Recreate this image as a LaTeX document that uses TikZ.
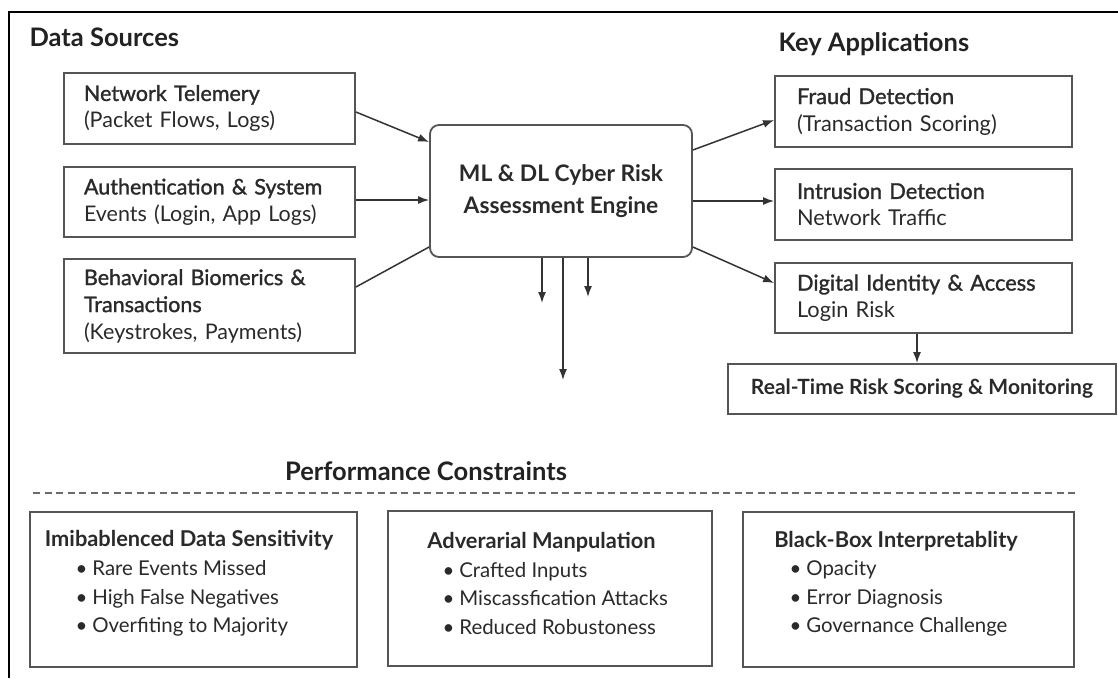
\documentclass[tikz,border=0pt]{standalone}
\usepackage{fontspec}
\setmainfont{Lato}
\newfontfamily\medfont[FakeBold=1.3]{Lato}
\usetikzlibrary{arrows.meta,calc}
\definecolor{txt}{HTML}{2A2A2A}
\definecolor{headtxt}{HTML}{222222}
\definecolor{boxgray}{HTML}{555555}
\definecolor{linegray}{HTML}{333333}
\definecolor{dashgray}{HTML}{6A6A6A}

\begin{document}
\begin{tikzpicture}[x=1pt,y=-1pt,
  every node/.style={text=txt, inner ysep=0pt},
  heading/.style={text=headtxt, font=\bfseries\fontsize{25.5}{30}\selectfont, anchor=base west},
  srcbox/.style={draw=boxgray, line width=1.8pt, fill=white, inner xsep=20pt,
    text width=251pt, align=left, font=\fontsize{21.5}{27}\selectfont},
  appbox/.style={draw=boxgray, line width=1.8pt, fill=white, inner xsep=22pt,
    text width=253pt, align=left, minimum height=71pt, font=\fontsize{21.8}{27}\selectfont},
  engine/.style={draw=boxgray, line width=1.8pt, fill=white, rounded corners=9pt,
    minimum width=262pt, minimum height=132pt, align=center,
    font=\bfseries\fontsize{22.8}{32}\selectfont},
  conbox/.style={draw=boxgray, line width=2pt, fill=white, minimum height=155pt},
  contitle/.style={font=\bfseries\fontsize{21.8}{24}\selectfont},
  bullets/.style={align=left, anchor=west, font=\fontsize{20.4}{28.5}\selectfont},
  flow/.style={draw=linegray, line width=1.5pt, -{Latex[length=11pt,width=8pt]}},
  link/.style={draw=linegray, line width=1.5pt}
]
\fill[white] (0,0) rectangle (1118,678);
\useasboundingbox (0,0) rectangle (1118,678);

% outer frame (top and left edges)
\draw[line width=2pt, black] (9,678) -- (9,12) -- (1118,12);

% section headings
\node[heading] (hsrc) at (26,46) {Data Sources};
\node[heading] (happ) at (775,51) {Key Applications};

% data sources
\node[srcbox, minimum height=71pt] (net) at (209.5,108.5)
  {{\medfont Network Telemery}\\(Packet Flows, Logs)};
\node[srcbox, minimum height=70pt] (auth) at (209.5,202)
  {{\medfont Authentication \& System}\\Events (Login, App Logs)};
\node[srcbox, minimum height=94pt] (bio) at (209.5,306)
  {{\medfont Behavioral Biomerics \&}\\{\medfont Transactions}\\(Keystrokes, Payments)};

% central engine
\node[engine] (eng) at (561,191) {ML \& DL Cyber Risk\\Assessment Engine};

% applications
\node[appbox] (fraud) at (923.5,111.5) {{\medfont Fraud Detection}\\(Transaction Scoring)};
\node[appbox] (intr) at (923.5,204.5) {{\medfont Intrusion Detection}\\Network Traffic};
\node[appbox, minimum height=70pt] (ident) at (923.5,298) {{\medfont Digital Identity \& Access}\\Login Risk};
\node[draw=boxgray, line width=1.8pt, fill=white, minimum width=388pt, minimum height=50pt,
  font=\bfseries\fontsize{21}{24}\selectfont] (rt) at (922,389)
  {Real-Time Risk Scoring \& Monitoring};

% inputs into the engine
\draw[flow] ($(net.east)+(0,3.5)$) -- (eng.west |- 0,142);
\draw[flow] (auth.east |- 0,200) -- (eng.west |- 0,200);
\draw[link] (bio.east |- 0,287) -- (eng.west |- 0,247);

% outputs to applications
\draw[flow] (eng.east |- 0,150) -- (fraud.west |- 0,120);
\draw[flow] (eng.east |- 0,201) -- (intr.west |- 0,201);
\draw[flow] (eng.east |- 0,247) -- (ident.west |- 0,283);
\draw[flow] (ident.south -| 917,0) -- (rt.north -| 917,0);

% open outputs below the engine
\coordinate (o1) at (542,303);
\coordinate (o2) at (563,380);
\coordinate (o3) at (588,297);
\draw[flow] (eng.south -| o1) -- (o1);
\draw[flow] (eng.south -| o2) -- (o2);
\draw[flow] (eng.south -| o3) -- (o3);

% performance constraints
\node[text=headtxt, anchor=base, font=\bfseries\fontsize{25.5}{30}\selectfont] (hperf) at (426,480) {Performance Constraints};
\coordinate (dl) at (33,493);
\coordinate (dr) at (1077,493);
\draw[dashgray, line width=1.6pt, dash pattern=on 7pt off 4.5pt] (dl) -- (dr);

\node[conbox, minimum width=327pt] (imb) at (193.5,589) {};
\node[contitle] (imbt) at (189,540) {Imibablenced Data Sensitivity};
\node[bullets] (imbl) at (72,598.5)
  {\textbullet\hspace{5pt}Rare Events Missed\\\textbullet\hspace{5pt}High False Negatives\\\textbullet\hspace{5pt}Overfiting to Majority};

\node[conbox, minimum width=324pt] (adv) at (550,588) {};
\node[contitle] (advt) at (541.5,542) {Adverarial Manpulation};
\node[bullets] (advl) at (439,598.5)
  {\textbullet\hspace{5pt}Crafted Inputs\\\textbullet\hspace{5pt}Miscassfication Attacks\\\textbullet\hspace{5pt}Reduced Robustoness};

\node[conbox, minimum width=331pt] (bb) at (908.5,589) {};
\node[contitle] (bbt) at (896,541) {Black-Box Interpretablity};
\node[bullets] (bbl) at (786,598.5)
  {\textbullet\hspace{5pt}Opacity\\\textbullet\hspace{5pt}Error Diagnosis\\\textbullet\hspace{5pt}Governance Challenge};
\end{tikzpicture}
\end{document}
